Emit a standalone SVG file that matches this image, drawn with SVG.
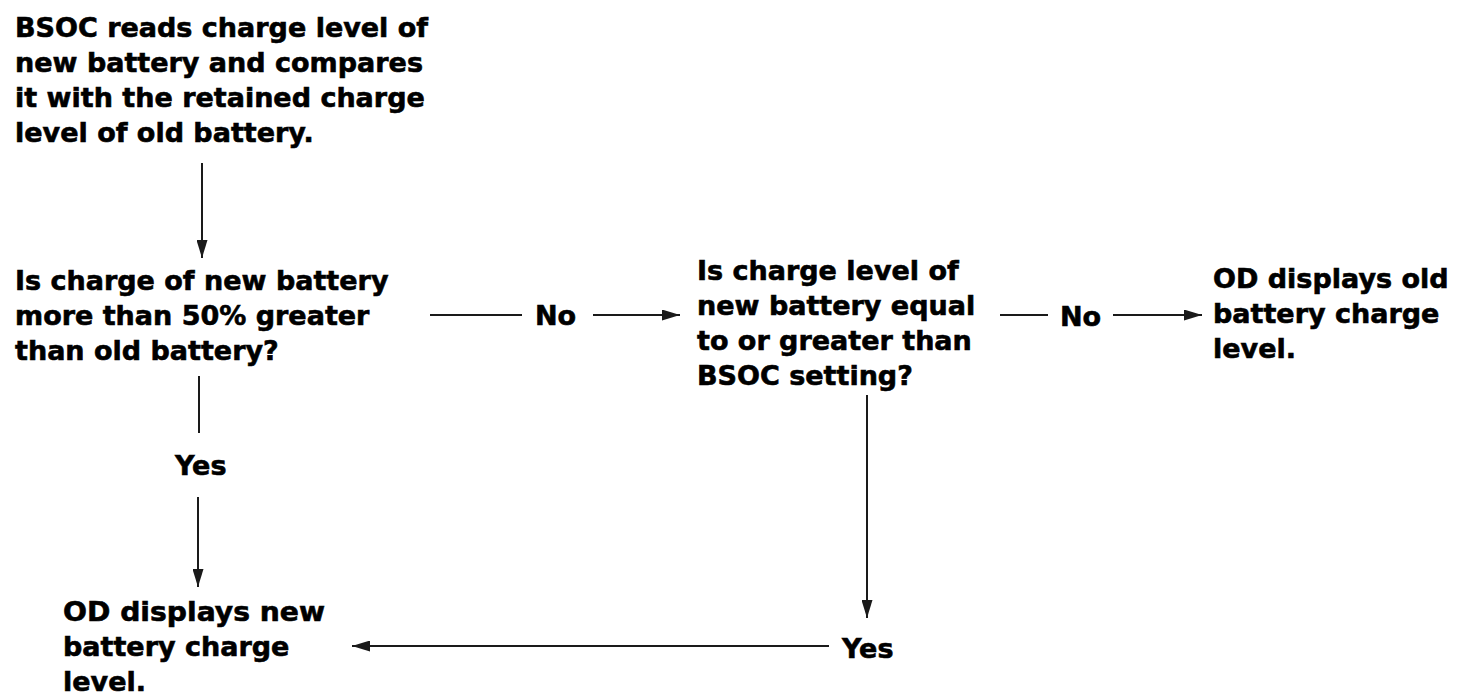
<svg xmlns="http://www.w3.org/2000/svg" width="1466" height="697" viewBox="0 0 1466 697">
  <style>
    .t { font-family: "DejaVu Sans", "Liberation Sans", sans-serif; font-weight: bold; font-size: 27px; fill: #000; stroke: #000; stroke-width: 0.6; }
    .c { stroke: #1a1a1a; stroke-width: 2; fill: none; }
  </style>
  <defs>
    <marker id="ah" viewBox="0 0 18 11" refX="18" refY="5.5" markerWidth="18" markerHeight="11" markerUnits="userSpaceOnUse" orient="auto">
      <path d="M0,0 L18,5.5 L0,11 Z" fill="#1a1a1a"/>
    </marker>
  </defs>
  <rect width="1466" height="697" fill="#fff"/>
  <g id="connectors">
    <line class="c" x1="202" y1="163" x2="202" y2="258" marker-end="url(#ah)"/>
    <line class="c" x1="199" y1="376" x2="199" y2="433"/>
    <line class="c" x1="198" y1="497" x2="198" y2="587" marker-end="url(#ah)"/>
    <line class="c" x1="430" y1="315" x2="522" y2="315"/>
    <line class="c" x1="593" y1="315" x2="680" y2="315" marker-end="url(#ah)"/>
    <line class="c" x1="1000" y1="315" x2="1048" y2="315"/>
    <line class="c" x1="1113" y1="315" x2="1202" y2="315" marker-end="url(#ah)"/>
    <line class="c" x1="867" y1="395" x2="867" y2="618" marker-end="url(#ah)"/>
    <line class="c" x1="829" y1="646" x2="352" y2="646" marker-end="url(#ah)"/>
    <text class="t" x="535" y="325">No</text>
    <text class="t" x="1060" y="326">No</text>
    <text class="t" x="175" y="475">Yes</text>
    <text class="t" x="842" y="658">Yes</text>
  </g>
  <g id="n1">
    <text class="t" x="15" y="37">BSOC reads charge level of</text>
    <text class="t" x="15" y="72">new battery and compares</text>
    <text class="t" x="15" y="107">it with the retained charge</text>
    <text class="t" x="15" y="142">level of old battery.</text>
  </g>
  <g id="n2">
    <text class="t" x="15" y="290">Is charge of new battery</text>
    <text class="t" x="15" y="325">more than 50% greater</text>
    <text class="t" x="15" y="360">than old battery?</text>
  </g>
  <g id="n3">
    <text class="t" x="697" y="280">Is charge level of</text>
    <text class="t" x="697" y="315">new battery equal</text>
    <text class="t" x="697" y="350">to or greater than</text>
    <text class="t" x="697" y="385">BSOC setting?</text>
  </g>
  <g id="n4">
    <text class="t" x="1213" y="288">OD displays old</text>
    <text class="t" x="1213" y="323">battery charge</text>
    <text class="t" x="1213" y="358">level.</text>
  </g>
  <g id="n5">
    <text class="t" x="63" y="621" textLength="262" lengthAdjust="spacingAndGlyphs">OD displays new</text>
    <text class="t" x="63" y="656">battery charge</text>
    <text class="t" x="63" y="691">level.</text>
  </g>
</svg>
